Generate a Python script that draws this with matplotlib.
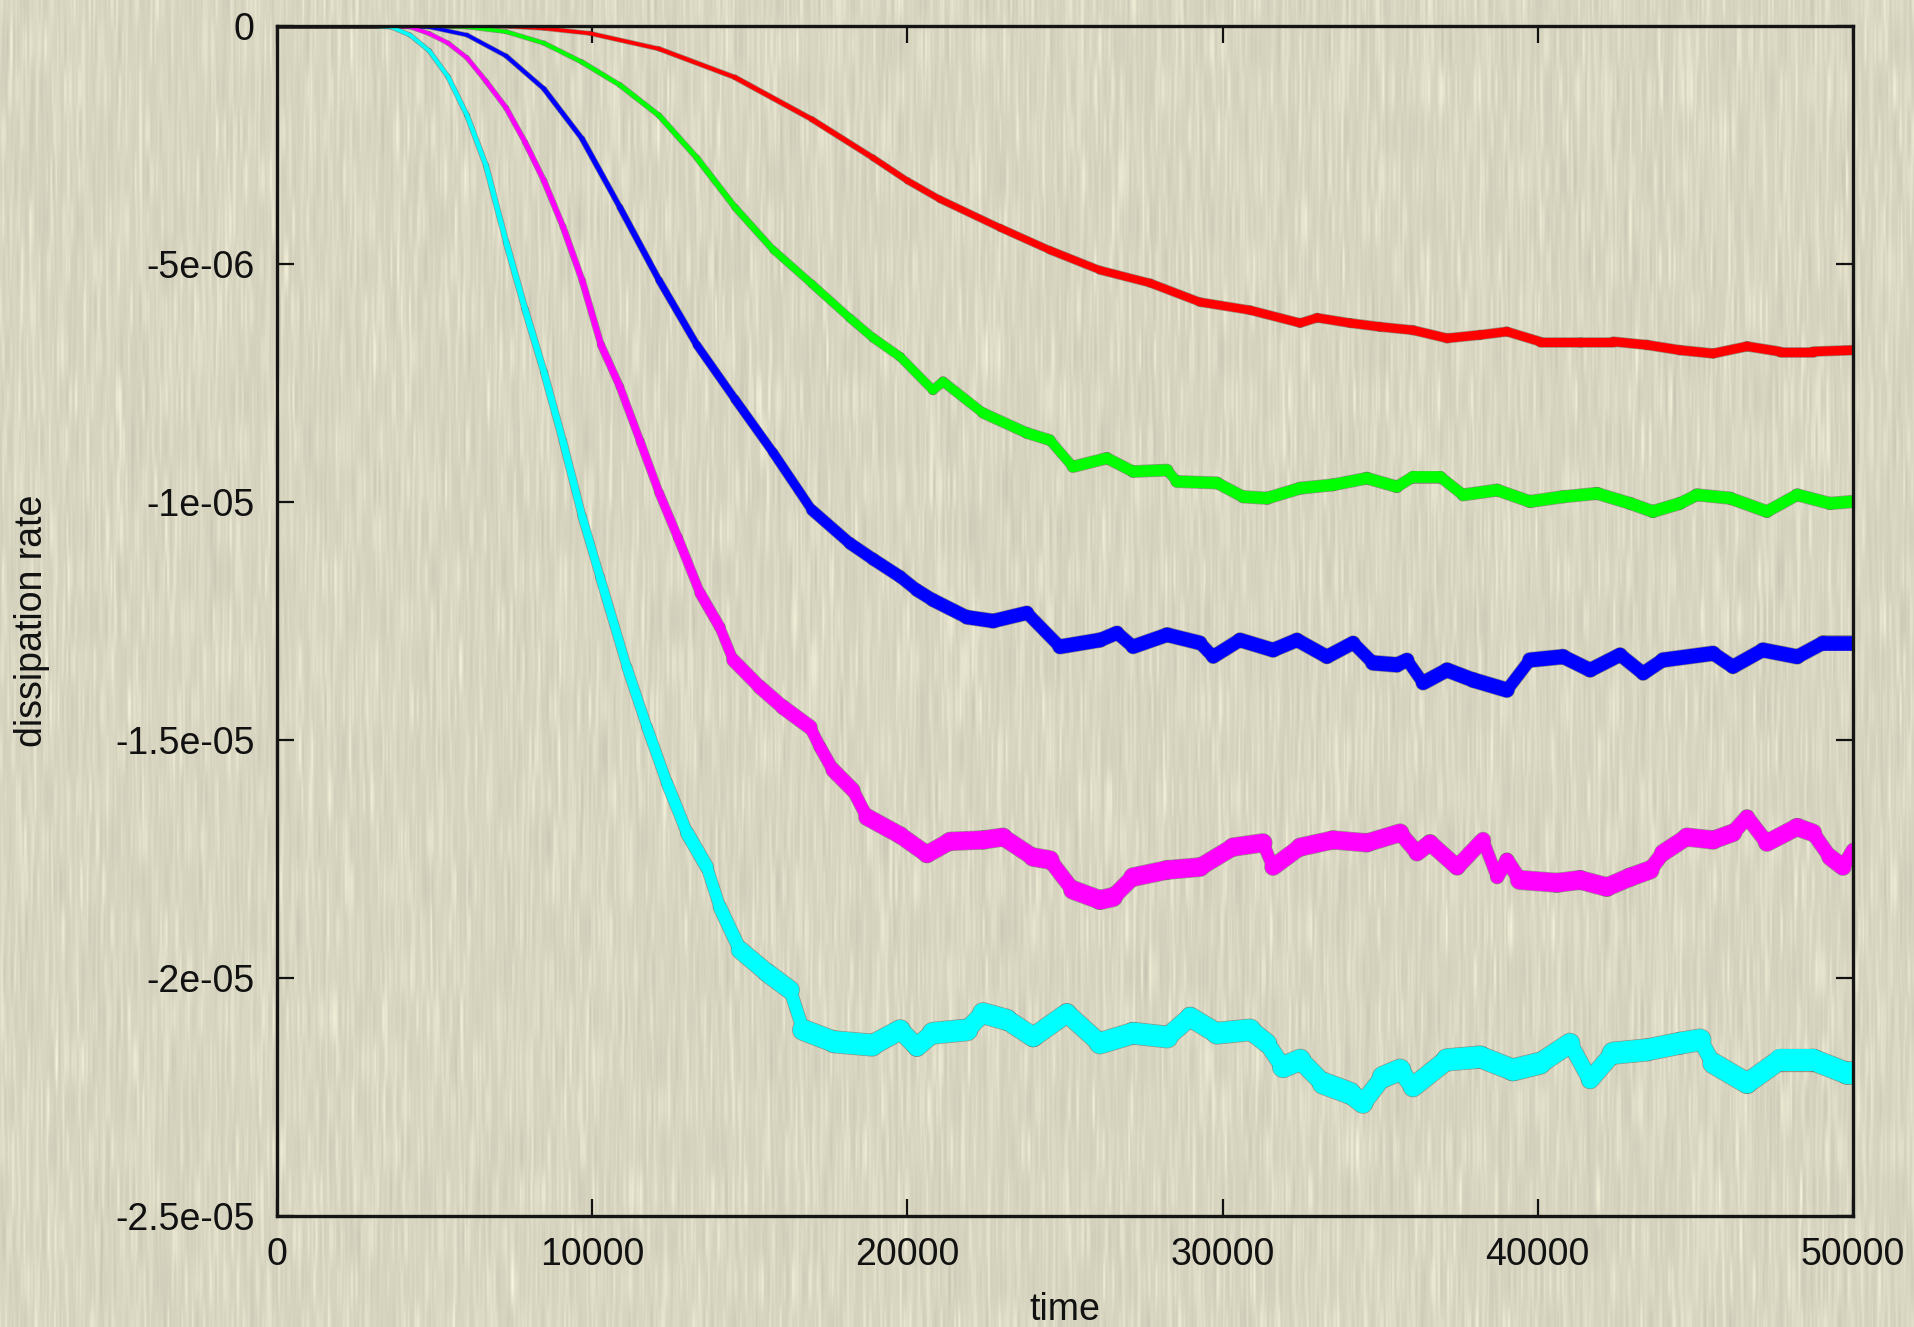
import numpy as np
import matplotlib
matplotlib.use("Agg")
import matplotlib.pyplot as plt
from matplotlib.collections import LineCollection

plt.rcParams['font.family'] = ['Liberation Sans', 'DejaVu Sans']

# dissipation rate values are stored in units of 1e-6
UNIT = 1e-6

red_t = [0, 6000, 7400, 8470, 9930, 12120, 14530, 16970, 18910, 20000, 21030, 22940,
         24520, 26110, 27700, 29280, 30870, 32460, 33000, 34040, 34990, 36040, 37120,
         38170, 39020, 40070, 41340, 42390, 43460, 44510, 45560, 46640, 47680, 48730, 50000]
red_y = [0, 0, -0.01, -0.05, -0.155, -0.48, -1.08, -1.96, -2.77, -3.25, -3.64, -4.24,
         -4.71, -5.13, -5.40, -5.80, -5.97, -6.24, -6.13, -6.24, -6.32, -6.39, -6.56,
         -6.49, -6.42, -6.63, -6.63, -6.63, -6.70, -6.81, -6.88, -6.73, -6.84, -6.84, -6.81]

green_t = [0, 5000, 6030, 7270, 8470, 9680, 10880, 12120, 13320, 14530, 15740, 16970,
           18180, 18910, 19770, 20810, 21130, 22400, 23790, 24520, 25250, 26330, 27160,
           28240, 28550, 29820, 30650, 31410, 32460, 33500, 34580, 35530, 36040, 36900,
           37630, 38710, 39750, 40800, 41880, 42930, 43650, 44510, 45050, 46100, 47270,
           48230, 49270, 50000]
green_y = [0, 0, -0.02, -0.12, -0.36, -0.76, -1.24, -1.88, -2.77, -3.81, -4.70, -5.42,
           -6.14, -6.55, -6.95, -7.65, -7.47, -8.13, -8.55, -8.70, -9.26, -9.08, -9.36,
           -9.33, -9.57, -9.60, -9.89, -9.92, -9.71, -9.64, -9.50, -9.68, -9.47, -9.47,
           -9.85, -9.75, -9.99, -9.89, -9.82, -10.03, -10.20, -10.03, -9.85, -9.92, -10.20,
           -9.85, -10.03, -9.99]

blue_t = [0, 4000, 4830, 6030, 7270, 8470, 9680, 10880, 12120, 13320, 14530, 15740,
          16970, 18180, 18910, 19770, 20300, 20810, 21890, 22720, 23790, 24840, 26110,
          26650, 27160, 28240, 29280, 29700, 30550, 31600, 32360, 33310, 34140, 34770,
          35530, 35850, 36360, 37120, 37950, 39020, 39750, 40800, 41660, 42610, 43340,
          43970, 45560, 46190, 47140, 48230, 49050, 50000]
blue_y = [0, 0, -0.02, -0.19, -0.63, -1.32, -2.37, -3.81, -5.34, -6.70, -7.84, -8.96,
          -10.17, -10.87, -11.20, -11.57, -11.85, -12.06, -12.42, -12.50, -12.33, -13.04,
          -12.90, -12.75, -13.04, -12.79, -12.96, -13.25, -12.90, -13.11, -12.90, -13.25,
          -12.96, -13.38, -13.42, -13.32, -13.80, -13.53, -13.74, -13.95, -13.32, -13.25,
          -13.53, -13.21, -13.60, -13.32, -13.18, -13.46, -13.11, -13.25, -12.96, -12.96]

magenta_t = [0, 3500, 4220, 4830, 5430, 6030, 6630, 7270, 7870, 8470, 9070, 9680, 10280,
             10880, 11520, 12120, 12720, 13420, 14050, 14470, 15320, 16050, 16910, 17230,
             17640, 18270, 18720, 19770, 20620, 21350, 22400, 23030, 23990, 24520, 25250,
             26110, 26520, 27160, 28240, 29280, 30330, 31280, 31600, 32460, 33500, 34580,
             35630, 36170, 36580, 37440, 38260, 38710, 39020, 39430, 40610, 41340, 42190,
             42930, 43560, 43970, 44730, 45560, 46190, 46640, 47270, 48230, 48730, 49270,
             49680, 50000]
magenta_y = [0, 0, -0.02, -0.16, -0.36, -0.67, -1.16, -1.72, -2.44, -3.25, -4.21, -5.34,
             -6.70, -7.58, -8.72, -9.80, -10.75, -11.91, -12.63, -13.32, -13.89, -14.31,
             -14.73, -15.15, -15.63, -16.05, -16.62, -17.00, -17.40, -17.13, -17.10, -17.04,
             -17.46, -17.52, -18.15, -18.36, -18.30, -17.88, -17.73, -17.67, -17.25, -17.16,
             -17.67, -17.25, -17.10, -17.16, -16.95, -17.37, -17.16, -17.67, -17.10, -17.88,
             -17.52, -17.94, -18.00, -17.94, -18.09, -17.88, -17.73, -17.37, -17.04, -17.10,
             -16.95, -16.62, -17.16, -16.83, -16.95, -17.46, -17.67, -17.31]

cyan_t = [0, 3000, 3620, 4220, 4830, 5430, 6030, 6630, 7270, 7870, 8470, 9070, 9680,
          10250, 11100, 11740, 12370, 13010, 13640, 14050, 14690, 15550, 16280, 16690,
          17670, 18880, 19770, 20300, 20810, 21890, 22400, 23160, 23990, 25060, 26110,
          27160, 28240, 28970, 29820, 30870, 31410, 31920, 32460, 33190, 34040, 34450,
          35090, 35630, 36040, 37120, 38170, 39210, 40070, 41020, 41660, 42390, 43460,
          44510, 45150, 45560, 46640, 47680, 48730, 49810, 50000]
cyan_y = [0, 0, -0.02, -0.19, -0.52, -1.07, -1.88, -2.93, -4.54, -5.95, -7.27, -8.72,
          -10.30, -11.58, -13.47, -14.73, -15.90, -16.95, -17.67, -18.51, -19.41, -19.89,
          -20.25, -21.09, -21.34, -21.41, -21.09, -21.45, -21.16, -21.09, -20.74, -20.88,
          -21.24, -20.74, -21.37, -21.16, -21.24, -20.82, -21.16, -21.09, -21.37, -21.87,
          -21.72, -22.21, -22.42, -22.63, -22.08, -21.93, -22.29, -21.72, -21.66, -21.93,
          -21.79, -21.37, -22.14, -21.58, -21.51, -21.37, -21.30, -21.79, -22.21, -21.72,
          -21.72, -22.00, -22.00]

series = [
    (red_t, red_y, '#ff0000'),
    (green_t, green_y, '#00ff00'),
    (blue_t, blue_y, '#0000ff'),
    (magenta_t, magenta_y, '#ff00ff'),
    (cyan_t, cyan_y, '#00ffff'),
]

x_ticks = [0, 10000, 20000, 30000, 40000, 50000]
x_tick_labels = ['0', '10000', '20000', '30000', '40000', '50000']
y_ticks = [0, -5e-6, -1e-5, -1.5e-5, -2e-5, -2.5e-5]
y_tick_labels = ['0', '-5e-06', '-1e-05', '-1.5e-05', '-2e-05', '-2.5e-05']

W, H, DPI = 1915, 1327, 100
fig = plt.figure(figsize=(W / DPI, H / DPI), dpi=DPI)

# textured paper backdrop with fine vertical grain
rng = np.random.default_rng(11)
rows = H // 45 + 2
coarse = rng.normal(size=(rows, W))
yy = np.linspace(0, rows - 1, H)
i0 = np.floor(yy).astype(int)
i1 = np.minimum(i0 + 1, rows - 1)
f = (yy - i0)[:, None]
f = f * f * (3 - 2 * f)
field = coarse[i0] * (1 - f) + coarse[i1] * f
kern = np.array([1.0, 2.0, 1.0])
kern /= kern.sum()
field = np.array([np.convolve(r, kern, mode='same') for r in field])
field /= field.std()
field = np.where(field > 0, field * 1.3, field * 0.7)
base = np.array([216.0, 214.0, 193.0])
tex = base[None, None, :] + 5.0 * field[:, :, None] * np.array([1.0, 1.0, 0.9])
tex = np.clip(tex, 0, 255).astype(np.uint8)

bg = fig.add_axes([0, 0, 1, 1], zorder=-5)
bg.imshow(tex, aspect='auto', interpolation='bilinear')
bg.set_axis_off()

ax = fig.add_axes([277 / W, 1 - 1216 / H, 1576 / W, 1190 / H], zorder=1)
ax.patch.set_alpha(0)

ax.set_xlim(0, 50000)
ax.set_ylim(-2.5e-5, 0)

# pixel scale of the data axes, used to thin the trace where it runs steeply
px_per_t = 1576.0 / 50000.0
px_per_unit = 1190.0 / 25.0

for t, y, color in series:
    t = np.asarray(t, float)
    yv = np.asarray(y, float)
    pts = np.column_stack([t, yv * UNIT])
    segs = np.stack([pts[:-1], pts[1:]], axis=1)
    dx = np.diff(t) * px_per_t
    dy = np.diff(yv) * px_per_unit
    cos_a = dx / np.hypot(dx, dy)
    mid = np.abs(0.5 * (yv[:-1] + yv[1:]))
    widths_px = 3.5 + 0.25 * mid + 0.6 * mid * cos_a
    widths = widths_px * 72.0 / DPI
    edge = LineCollection(segs, colors=(0.25, 0.25, 0.22, 0.45), linewidths=widths + 1.0,
                          capstyle='round', joinstyle='round', zorder=2)
    core = LineCollection(segs, colors=color, linewidths=widths,
                          capstyle='round', joinstyle='round', zorder=3)
    ax.add_collection(edge)
    ax.add_collection(core)

ax.set_xticks(x_ticks)
ax.set_xticklabels(x_tick_labels)
ax.set_yticks(y_ticks)
ax.set_yticklabels(y_tick_labels)

ax.tick_params(axis='both', which='major', direction='in', length=12, width=1.6,
               top=True, right=True, labelsize=27, colors='#111111')
ax.tick_params(axis='x', pad=15)
ax.tick_params(axis='y', pad=16)
for sp in ax.spines.values():
    sp.set_linewidth(2.4)
    sp.set_color('#151515')
    sp.set_zorder(4)

ax.text(0.5, (1216 - 1320) / 1190, 'time', transform=ax.transAxes,
        ha='center', va='baseline', fontsize=27, color='#111111')
ax.text((32 - 277) / 1576, 0.5, 'dissipation rate', transform=ax.transAxes,
        ha='center', va='center', rotation=90, fontsize=27, color='#111111')

fig.savefig('out.png', dpi=DPI)
